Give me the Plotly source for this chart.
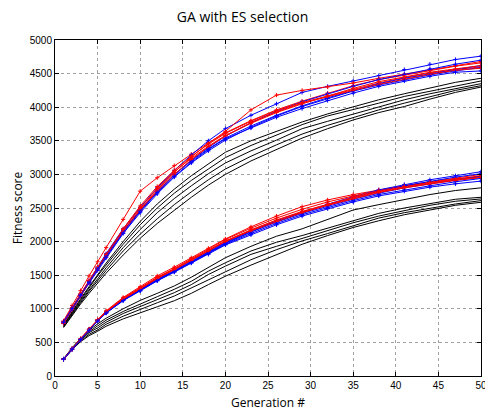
import plotly.graph_objects as go

generations = [1, 2, 3, 4, 5, 6, 8, 10, 12, 14, 16, 18, 20, 23, 26, 29, 32, 35, 38, 41, 44, 47, 50]

# ---- upper group (large population) ----
upper_black = [
    [760, 960, 1150, 1330, 1510, 1680, 2000, 2300, 2560, 2780, 2980, 3160, 3330, 3500, 3640, 3780, 3900, 4010, 4110, 4200, 4290, 4370, 4430],
    [750, 950, 1130, 1310, 1490, 1650, 1960, 2250, 2500, 2720, 2910, 3080, 3250, 3430, 3590, 3740, 3870, 3960, 4060, 4160, 4240, 4320, 4390],
    [740, 930, 1110, 1280, 1450, 1610, 1910, 2180, 2430, 2640, 2830, 3010, 3170, 3350, 3510, 3680, 3790, 3900, 4010, 4110, 4200, 4280, 4350],
    [730, 920, 1090, 1260, 1420, 1570, 1860, 2110, 2340, 2550, 2740, 2920, 3080, 3270, 3440, 3600, 3730, 3850, 3960, 4060, 4160, 4250, 4320],
    [720, 900, 1070, 1230, 1380, 1530, 1800, 2050, 2270, 2470, 2660, 2840, 3000, 3200, 3370, 3540, 3680, 3810, 3920, 4010, 4120, 4220, 4300],
]
upper_red = [
    [820, 1050, 1270, 1490, 1700, 1910, 2330, 2750, 2950, 3130, 3300, 3470, 3620, 3800, 3960, 4090, 4210, 4320, 4410, 4480, 4550, 4610, 4660],
    [800, 1010, 1210, 1410, 1600, 1790, 2160, 2480, 2770, 3030, 3260, 3460, 3640, 3960, 4180, 4250, 4300, 4360, 4430, 4490, 4560, 4620, 4680],
    [790, 1000, 1200, 1400, 1600, 1800, 2190, 2530, 2820, 3060, 3270, 3450, 3610, 3790, 3950, 4070, 4170, 4270, 4360, 4440, 4510, 4560, 4600],
    [810, 1020, 1220, 1420, 1620, 1810, 2180, 2500, 2790, 3040, 3240, 3420, 3580, 3760, 3920, 4050, 4170, 4280, 4380, 4450, 4520, 4570, 4620],
    [780, 990, 1190, 1390, 1590, 1780, 2150, 2470, 2750, 3000, 3220, 3410, 3570, 3770, 3930, 4060, 4160, 4250, 4340, 4420, 4490, 4550, 4580],
]
upper_blue = [
    [800, 1010, 1210, 1420, 1620, 1820, 2190, 2510, 2800, 3060, 3290, 3500, 3680, 3880, 4050, 4220, 4310, 4390, 4470, 4560, 4640, 4710, 4760],
    [790, 1000, 1200, 1400, 1600, 1790, 2150, 2460, 2740, 2990, 3210, 3400, 3570, 3770, 3940, 4080, 4200, 4310, 4410, 4490, 4570, 4640, 4700],
    [810, 1020, 1220, 1410, 1610, 1800, 2160, 2470, 2750, 3000, 3200, 3380, 3540, 3720, 3880, 4020, 4140, 4250, 4350, 4430, 4500, 4560, 4620],
    [780, 990, 1190, 1380, 1570, 1760, 2120, 2430, 2710, 2960, 3170, 3350, 3510, 3700, 3870, 4010, 4130, 4240, 4330, 4410, 4480, 4540, 4590],
    [800, 1000, 1200, 1390, 1590, 1770, 2130, 2450, 2730, 2970, 3180, 3370, 3530, 3690, 3850, 3980, 4100, 4210, 4310, 4390, 4460, 4520, 4540],
]

# ---- lower group (small population) ----
lower_black = [
    [255, 420, 560, 680, 775, 860, 1000, 1125, 1230, 1340, 1470, 1620, 1760, 1930, 2080, 2190, 2330, 2470, 2550, 2630, 2700, 2760, 2800],
    [250, 410, 545, 660, 745, 830, 960, 1075, 1180, 1290, 1410, 1560, 1685, 1860, 1990, 2090, 2200, 2320, 2420, 2500, 2570, 2630, 2660],
    [250, 405, 535, 645, 715, 800, 930, 1035, 1140, 1240, 1360, 1510, 1635, 1810, 1930, 2050, 2160, 2280, 2380, 2460, 2540, 2600, 2635],
    [245, 395, 520, 620, 685, 770, 890, 985, 1090, 1190, 1310, 1440, 1560, 1730, 1880, 2010, 2120, 2240, 2350, 2430, 2500, 2560, 2610],
    [245, 390, 510, 600, 665, 740, 850, 935, 1030, 1120, 1230, 1360, 1485, 1650, 1800, 1960, 2090, 2210, 2310, 2400, 2470, 2540, 2585],
]
lower_red = [
    [250, 410, 560, 700, 840, 970, 1170, 1330, 1490, 1620, 1760, 1900, 2040, 2220, 2380, 2520, 2620, 2700, 2770, 2830, 2880, 2930, 2980],
    [255, 405, 550, 695, 835, 960, 1160, 1310, 1470, 1600, 1740, 1880, 2030, 2200, 2350, 2480, 2590, 2680, 2760, 2830, 2890, 2940, 3000],
    [245, 395, 545, 690, 830, 950, 1150, 1300, 1460, 1590, 1730, 1870, 2010, 2170, 2320, 2450, 2560, 2660, 2750, 2820, 2880, 2930, 2970],
    [250, 400, 540, 685, 825, 945, 1140, 1290, 1450, 1580, 1720, 1860, 2000, 2160, 2300, 2430, 2540, 2640, 2730, 2800, 2860, 2910, 2950],
    [250, 400, 545, 690, 830, 955, 1150, 1300, 1455, 1590, 1730, 1865, 2005, 2175, 2320, 2440, 2550, 2650, 2740, 2810, 2870, 2920, 2960],
]
lower_blue = [
    [250, 400, 545, 690, 830, 950, 1140, 1290, 1440, 1570, 1710, 1850, 1990, 2160, 2310, 2440, 2560, 2670, 2770, 2850, 2920, 2980, 3040],
    [255, 405, 550, 690, 825, 945, 1130, 1280, 1430, 1560, 1700, 1840, 1980, 2150, 2300, 2430, 2550, 2650, 2750, 2830, 2900, 2960, 3010],
    [245, 395, 540, 680, 820, 940, 1130, 1275, 1425, 1555, 1690, 1830, 1970, 2140, 2290, 2420, 2530, 2630, 2720, 2800, 2860, 2920, 2970],
    [250, 400, 540, 685, 820, 940, 1125, 1270, 1420, 1550, 1685, 1820, 1960, 2120, 2270, 2400, 2510, 2610, 2700, 2770, 2830, 2890, 2940],
    [250, 398, 542, 682, 818, 935, 1120, 1265, 1415, 1545, 1680, 1810, 1950, 2100, 2250, 2380, 2490, 2590, 2680, 2750, 2810, 2860, 2900],
]

x_ticks = [0, 5, 10, 15, 20, 25, 30, 35, 40, 45, 50]
y_ticks = [0, 500, 1000, 1500, 2000, 2500, 3000, 3500, 4000, 4500, 5000]

fig = go.Figure()

def add_line(ys, color, marker):
    kw = dict(x=generations, y=ys, line=dict(color=color, width=1), showlegend=False,
              hoverinfo="skip")
    if marker:
        kw["mode"] = "lines+markers"
        kw["marker"] = dict(symbol="cross-thin", size=3, line=dict(color=color, width=1))
    else:
        kw["mode"] = "lines"
    fig.add_trace(go.Scatter(**kw))

for ys in upper_black + lower_black:
    add_line(ys, "#000000", False)
for r, b in zip(upper_red + lower_red, upper_blue + lower_blue):
    add_line(r, "#ff0000", True)
    add_line(b, "#0000ff", True)

tick_font = dict(family="Liberation Sans, Arial, sans-serif", size=10, color="#000")
label_font = dict(family="Open Sans, sans-serif", size=12, color="#000")
fig.update_layout(
    width=485, height=417,
    margin=dict(l=55, r=4, t=40, b=41, autoexpand=False),
    paper_bgcolor="white", plot_bgcolor="white",
    title=dict(text="GA with ES selection", x=0.5, xanchor="center", y=0.958, yanchor="middle",
               font=dict(family="Open Sans, sans-serif", size=14, color="#000")),
    xaxis=dict(range=[0, 50], tickvals=x_ticks, ticks="inside", ticklen=4, tickcolor="#000",
               showline=True, linecolor="#000", linewidth=1, mirror="ticks",
               showgrid=True, gridcolor="#a0a0a0", griddash="dot", gridwidth=1,
               zeroline=False, tickfont=tick_font, ticklabeloverflow="allow", automargin=False,
               title=dict(text="Generation #", font=label_font, standoff=8)),
    yaxis=dict(range=[0, 5000], tickvals=y_ticks, ticks="inside", ticklen=4, tickcolor="#000",
               showline=True, linecolor="#000", linewidth=1, mirror="ticks",
               showgrid=True, gridcolor="#a0a0a0", griddash="dot", gridwidth=1,
               zeroline=False, tickfont=tick_font, ticklabeloverflow="allow", automargin=False,
               title=dict(text="Fitness score", font=label_font, standoff=4)),
)

fig.write_html("out.html")
